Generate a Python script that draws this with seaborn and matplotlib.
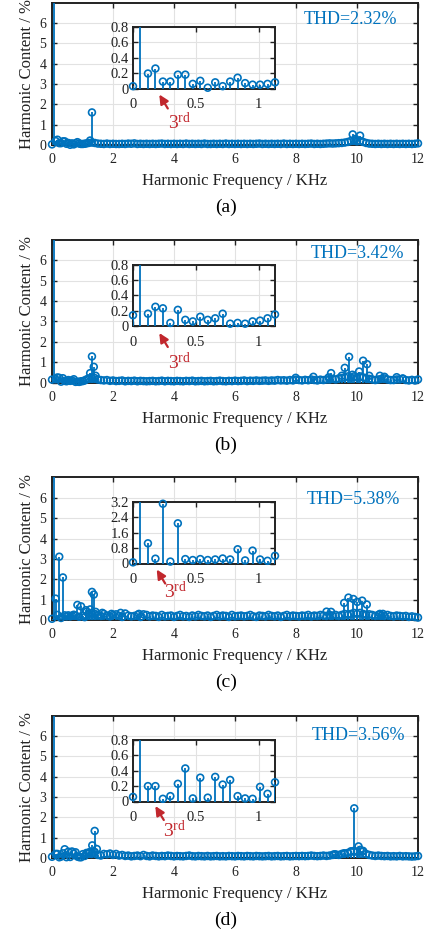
import numpy as np
import matplotlib
matplotlib.use("Agg")
import matplotlib.pyplot as plt
import seaborn as sns

# ---------------- data ----------------
panel_names = ["(a)", "(b)", "(c)", "(d)"]
thd_labels = ["THD=2.32%", "THD=3.42%", "THD=5.38%", "THD=3.56%"]

# harmonic step (kHz) of the low-order spectrum shown in the insets
harm_step = 0.0595
# inset values: harmonic index 0..19 (index 1 = fundamental, clipped)
inset_a = [0.03, 100, 0.195, 0.26, 0.09, 0.09, 0.18, 0.18, 0.06, 0.10,
           0.01, 0.08, 0.03, 0.09, 0.14, 0.07, 0.05, 0.05, 0.06, 0.08]
inset_b = [0.14, 100, 0.16, 0.25, 0.23, 0.04, 0.21, 0.08, 0.06, 0.12,
           0.08, 0.10, 0.16, 0.03, 0.04, 0.03, 0.06, 0.07, 0.10, 0.15]
inset_c = [0.06, 100, 1.05, 0.25, 3.11, 0.10, 2.09, 0.23, 0.18, 0.23,
           0.18, 0.21, 0.26, 0.21, 0.74, 0.16, 0.67, 0.21, 0.14, 0.40]
inset_d = [0.06, 100, 0.20, 0.20, 0.035, 0.07, 0.23, 0.43, 0.04, 0.31,
           0.05, 0.32, 0.22, 0.28, 0.07, 0.04, 0.035, 0.19, 0.10, 0.25]

# broadband spectrum 1.2 .. 12.0 kHz on a 0.1 kHz grid
base_start, base_stop, base_step = 1.2, 12.0, 0.1
base_a = [0.10, 0.12, 0.10, 0.07, 0.06, 0.05, 0.07, 0.05, 0.06, 0.05,
          0.05, 0.06, 0.05, 0.07, 0.06, 0.08, 0.05, 0.06, 0.05, 0.06,
          0.05, 0.06, 0.05, 0.06, 0.07, 0.05, 0.06, 0.05, 0.06, 0.05,
          0.06, 0.05, 0.07, 0.05, 0.06, 0.05, 0.06, 0.05, 0.07, 0.05,
          0.05, 0.06, 0.05, 0.06, 0.05, 0.07, 0.05, 0.06, 0.05, 0.06,
          0.05, 0.06, 0.05, 0.06, 0.05, 0.06, 0.07, 0.05, 0.06, 0.05,
          0.06, 0.05, 0.06, 0.05, 0.07, 0.05, 0.06, 0.05, 0.06, 0.05,
          0.06, 0.05, 0.06, 0.07, 0.05, 0.06, 0.05, 0.06, 0.07, 0.08,
          0.07, 0.08, 0.09, 0.10, 0.12, 0.15, 0.20, 0.22, 0.18, 0.20,
          0.15, 0.10, 0.07, 0.06, 0.05, 0.06, 0.05, 0.06, 0.05, 0.06,
          0.05, 0.06, 0.05, 0.06, 0.05, 0.06, 0.05, 0.06, 0.08]
base_b = [0.20, 0.25, 0.22, 0.15, 0.12, 0.10, 0.12, 0.08, 0.10, 0.07,
          0.08, 0.10, 0.06, 0.08, 0.07, 0.09, 0.06, 0.08, 0.07, 0.06,
          0.07, 0.08, 0.06, 0.07, 0.09, 0.06, 0.08, 0.07, 0.06, 0.08,
          0.07, 0.06, 0.08, 0.07, 0.09, 0.06, 0.07, 0.08, 0.06, 0.07,
          0.08, 0.06, 0.07, 0.09, 0.07, 0.06, 0.08, 0.07, 0.09, 0.07,
          0.08, 0.10, 0.07, 0.09, 0.08, 0.10, 0.08, 0.09, 0.10, 0.08,
          0.10, 0.09, 0.12, 0.10, 0.11, 0.09, 0.12, 0.10, 0.14, 0.12,
          0.10, 0.13, 0.11, 0.15, 0.12, 0.10, 0.14, 0.12, 0.15, 0.15,
          0.18, 0.15, 0.20, 0.22, 0.25, 0.30, 0.25, 0.30, 0.25, 0.30,
          0.25, 0.20, 0.18, 0.15, 0.12, 0.15, 0.18, 0.20, 0.15, 0.12,
          0.12, 0.15, 0.15, 0.18, 0.12, 0.10, 0.13, 0.10, 0.15]
base_c = [0.30, 0.35, 0.30, 0.25, 0.20, 0.30, 0.22, 0.18, 0.25, 0.28,
          0.20, 0.15, 0.32, 0.22, 0.18, 0.20, 0.25, 0.15, 0.28, 0.25,
          0.18, 0.22, 0.20, 0.15, 0.25, 0.18, 0.20, 0.22, 0.15, 0.20,
          0.25, 0.18, 0.20, 0.15, 0.22, 0.18, 0.25, 0.20, 0.18, 0.22,
          0.15, 0.20, 0.25, 0.18, 0.22, 0.20, 0.15, 0.25, 0.18, 0.20,
          0.22, 0.18, 0.20, 0.25, 0.18, 0.15, 0.22, 0.20, 0.18, 0.25,
          0.20, 0.18, 0.22, 0.15, 0.20, 0.25, 0.18, 0.22, 0.20, 0.18,
          0.22, 0.20, 0.25, 0.18, 0.22, 0.20, 0.25, 0.22, 0.20, 0.25,
          0.22, 0.25, 0.20, 0.25, 0.30, 0.25, 0.30, 0.35, 0.30, 0.35,
          0.30, 0.25, 0.28, 0.25, 0.20, 0.25, 0.22, 0.20, 0.25, 0.20,
          0.18, 0.22, 0.20, 0.18, 0.20, 0.15, 0.18, 0.15, 0.12]
base_d = [0.25, 0.20, 0.30, 0.15, 0.12, 0.20, 0.18, 0.22, 0.15, 0.20,
          0.12, 0.15, 0.10, 0.12, 0.08, 0.10, 0.12, 0.09, 0.15, 0.10,
          0.08, 0.12, 0.10, 0.08, 0.10, 0.09, 0.12, 0.10, 0.08, 0.10,
          0.09, 0.08, 0.10, 0.12, 0.09, 0.08, 0.10, 0.09, 0.08, 0.10,
          0.08, 0.09, 0.10, 0.08, 0.09, 0.08, 0.10, 0.09, 0.08, 0.10,
          0.09, 0.08, 0.10, 0.09, 0.08, 0.10, 0.09, 0.08, 0.09, 0.10,
          0.08, 0.09, 0.10, 0.08, 0.09, 0.10, 0.08, 0.09, 0.10, 0.09,
          0.10, 0.09, 0.10, 0.12, 0.10, 0.09, 0.10, 0.12, 0.10, 0.12,
          0.15, 0.18, 0.15, 0.20, 0.22, 0.25, 0.30, 0.35, 0.30, 0.40,
          0.35, 0.20, 0.15, 0.12, 0.10, 0.12, 0.10, 0.09, 0.10, 0.08,
          0.09, 0.08, 0.10, 0.08, 0.09, 0.08, 0.07, 0.08, 0.10]

# distinct peaks (kHz, %)
peak_f_a = [1.25, 1.31, 9.86, 9.95, 10.10]
peak_v_a = [0.22, 1.60, 0.52, 0.30, 0.46]
peak_f_b = [1.25, 1.31, 1.37, 1.43, 7.99, 8.57, 9.07, 9.15, 9.50, 9.60,
            9.74, 9.85, 10.07, 10.20, 10.33, 10.40, 10.75, 10.90, 11.30, 11.50]
peak_v_b = [0.46, 1.28, 0.77, 0.33, 0.23, 0.28, 0.25, 0.46, 0.33, 0.72,
            1.26, 0.38, 0.54, 1.07, 0.90, 0.33, 0.33, 0.28, 0.26, 0.20]
peak_f_c = [1.11, 1.25, 1.31, 1.37, 1.43, 1.65, 1.95, 2.25, 2.85, 9.00,
            9.15, 9.58, 9.72, 9.88, 10.01, 10.17, 10.32, 10.75, 10.85]
peak_v_c = [0.48, 0.52, 1.38, 1.25, 0.40, 0.35, 0.30, 0.35, 0.30, 0.41,
            0.40, 0.84, 1.10, 1.03, 0.89, 0.95, 0.76, 0.30, 0.30]
peak_f_d = [1.19, 1.25, 1.32, 1.40, 1.47, 9.25, 9.57, 9.80, 9.91, 10.05, 10.17]
peak_v_d = [0.25, 0.30, 0.62, 1.33, 0.44, 0.18, 0.23, 0.33, 2.44, 0.57, 0.33]

insets = [inset_a, inset_b, inset_c, inset_d]
bases = [base_a, base_b, base_c, base_d]
peak_fs = [peak_f_a, peak_f_b, peak_f_c, peak_f_d]
peak_vs = [peak_v_a, peak_v_b, peak_v_c, peak_v_d]
inset_ylims = [0.8, 0.8, 3.2, 0.8]
inset_yticks = [[0, 0.2, 0.4, 0.6, 0.8]] * 2 + [[0, 0.8, 1.6, 2.4, 3.2]] + [[0, 0.2, 0.4, 0.6, 0.8]]
inset_yticklabels = [["0", "0.2", "0.4", "0.6", "0.8"]] * 2 + [["0", "0.8", "1.6", "2.4", "3.2"]] + [["0", "0.2", "0.4", "0.6", "0.8"]]

# ---------------- style ----------------
sns.set_theme(style="whitegrid")
plt.rcParams['font.family'] = ['Liberation Serif', 'DejaVu Serif']
plt.rcParams['mathtext.fontset'] = 'custom'
plt.rcParams['mathtext.rm'] = 'Liberation Serif'
plt.rcParams['mathtext.it'] = 'Liberation Serif:italic'

BLUE = '#0072BD'
RED = '#C1272D'
W, H = 426, 936
fig = plt.figure(figsize=(W / 100, H / 100), dpi=100)


def box(l, t, r, b):
    return [l / W, 1 - b / H, (r - l) / W, (b - t) / H]


def style_axes(ax, labelsize):
    ax.set_facecolor('white')
    ax.grid(True, color='#e2e2e2', lw=0.8)
    ax.set_axisbelow(True)
    ax.tick_params(direction='in', top=True, right=True, bottom=True, left=True,
                   length=3.5, width=1.0, color='#222222', labelsize=labelsize,
                   labelcolor='#222222')
    for s in ax.spines.values():
        s.set_visible(True)
        s.set_color('#222222')
        s.set_linewidth(1.4)


def stems(ax, x, y, ytop, s, lw):
    x = np.asarray(x, float)
    y = np.asarray(y, float)
    ax.vlines(x, 0, y, color=BLUE, lw=lw, zorder=3)
    m = y <= ytop
    sns.scatterplot(x=x[m], y=y[m], ax=ax, marker='o', s=s, color=BLUE,
                    facecolor='none', edgecolor=BLUE, linewidth=1.2,
                    zorder=4, clip_on=False, legend=False)


tops = [2.5, 240, 477.5, 715.5]
thd_pos = [(304, 16.5), (311, 14), (307, 21.5), (312, 20.5)]
arrow_tip = [(159.3, 92), (159.3, 93), (156.7, 92), (155.3, 90.5)]
label_3rd = [(168, 119.5), (168, 122), (164, 114), (163, 115)]

base_f = np.round(np.arange(base_start, base_stop + 1e-9, base_step), 2)

for i in range(4):
    top = tops[i]
    ax = fig.add_axes(box(52, top, 418, top + 142.5))
    style_axes(ax, 10)
    hf = np.arange(len(insets[i])) * harm_step
    xs = np.concatenate([hf, base_f, peak_fs[i]])
    ys = np.concatenate([insets[i], bases[i], peak_vs[i]])
    order = np.argsort(xs, kind='stable')
    stems(ax, xs[order], ys[order], 7, 24, 1.3)
    ax.set_xlim(0, 12)
    ax.set_ylim(0, 7)
    ax.set_xticks(range(0, 13, 2))
    ax.set_yticks(range(0, 7))
    ax.tick_params(axis='x', pad=6)
    ax.tick_params(axis='y', pad=4)
    ax.set_xlabel('Harmonic Frequency / KHz', fontsize=12, color='#222222', labelpad=5)
    ax.set_ylabel('Harmonic Content / %', fontsize=12, color='#222222', labelpad=3)

    tx, ty = thd_pos[i]
    fig.text(tx / W, 1 - (top + ty) / H, thd_labels[i], color=BLUE,
             fontsize=13, ha='left', va='center')

    # inset
    ins = fig.add_axes(box(133, top + 24.5, 275, top + 86))
    style_axes(ins, 10.5)
    stems(ins, hf, insets[i], inset_ylims[i], 24, 1.3)
    ins.set_xlim(0, 19 * harm_step)
    ins.set_ylim(0, inset_ylims[i])
    ins.set_xticks([0, 0.5, 1])
    ins.set_xticklabels(['0', '0.5', '1'])
    ins.set_yticks(inset_yticks[i])
    ins.set_yticklabels(inset_yticklabels[i])
    ins.tick_params(axis='x', pad=7)
    ins.tick_params(axis='y', pad=3)

    # 3rd harmonic arrow
    ax_tip, ay_tip = arrow_tip[i]
    lx, ly = label_3rd[i]
    fig.text(lx / W, 1 - (top + ly) / H, r'$\mathrm{3^{rd}}$', color=RED,
             fontsize=14, ha='left', va='center')
    ax.annotate('', xy=(ax_tip / W, 1 - (top + ay_tip) / H),
                xytext=((ax_tip + 8.5) / W, 1 - (top + ay_tip + 14) / H),
                xycoords='figure fraction', textcoords='figure fraction',
                arrowprops=dict(arrowstyle='-|>,head_length=0.45,head_width=0.22',
                                color=RED, lw=1.6, shrinkA=0, shrinkB=0))

    fig.text(226 / W, 1 - (top + 205) / H, panel_names[i], fontsize=14,
             ha='center', va='center', color='black')

fig.savefig('out.png', dpi=100)
